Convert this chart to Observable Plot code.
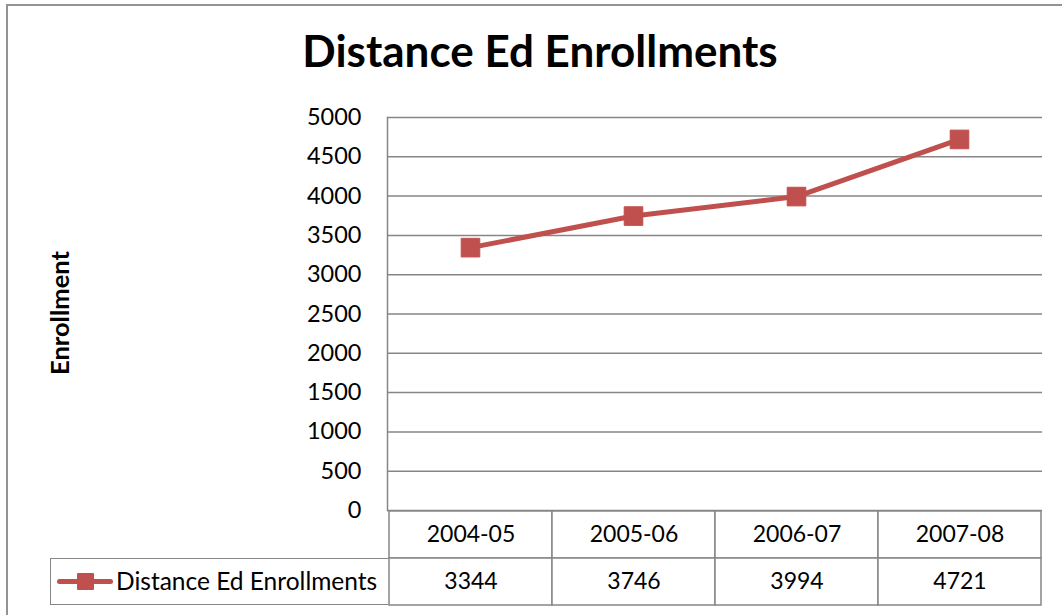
<!DOCTYPE html>
<html>
<head>
<meta charset="utf-8">
<script src="https://cdn.jsdelivr.net/npm/d3@7"></script>
<script src="https://cdn.jsdelivr.net/npm/@observablehq/plot@0.6"></script>
<style>
  html, body { margin: 0; padding: 0; background: #fff; }
  #wrap { position: relative; width: 1062px; height: 615px; overflow: hidden; background: #fff; font-family: Lato, sans-serif; color: #000; }
  #frame { position: absolute; left: 6px; top: 4px; width: 1200px; height: 800px; border-left: 2px solid #939393; border-top: 2px solid #939393; }
  #title { position: absolute; left: 0; width: 1080px; top: 28px; text-align: center; font-weight: 700; font-size: 44px; line-height: 44px; white-space: nowrap; }
  #ytitle { position: absolute; left: 59px; top: 313px; transform: translate(-50%, -50%) rotate(-90deg); font-weight: 700; font-size: 25.5px; white-space: nowrap; }
  #main, #table { position: absolute; left: 0; }
  #main { top: 0; }
  #table { top: 510px; }
  #legend { position: absolute; left: 50px; top: 558px; width: 338px; height: 47px; box-sizing: border-box; border: 1.5px solid #868686; border-right: none; background: #fff; }
  #legend .ln { position: absolute; left: 6px; top: 20px; width: 56px; height: 5px; border-radius: 2.5px; }
  #legend .sq { position: absolute; left: 26px; top: 14px; width: 17px; height: 17px; border-radius: 1px; }
  #legend .tx { position: absolute; left: 65px; top: 0; height: 44px; line-height: 44px; font-size: 24.5px; white-space: nowrap; }
</style>
</head>
<body>
<div id="wrap">
  <div id="frame"></div>
  <div id="title"></div>
  <div id="ytitle"></div>
  <div id="main"></div>
  <div id="table"></div>
  <div id="legend"><div class="ln"></div><div class="sq"></div><div class="tx"></div></div>
</div>
<script>
const chartTitle = "Distance Ed Enrollments";
const yTitle = "Enrollment";
const seriesName = "Distance Ed Enrollments";
const categories = ["2004-05", "2005-06", "2006-07", "2007-08"];
const enrollments = [3344, 3746, 3994, 4721];
const yTicks = [0, 500, 1000, 1500, 2000, 2500, 3000, 3500, 4000, 4500, 5000];
const tableRows = ["header", "value"];

const RED = "#C0504D";
const GRID = "#868686";

const data = categories.map((c, i) => ({cat: c, value: enrollments[i]}));
const cells = categories.flatMap((c, i) => [
  {cat: c, row: tableRows[0], text: c},
  {cat: c, row: tableRows[1], text: String(enrollments[i])}
]);

document.getElementById("title").textContent = chartTitle;
document.getElementById("ytitle").textContent = yTitle;
document.querySelector("#legend .tx").textContent = seriesName;
document.querySelector("#legend .ln").style.background = RED;
document.querySelector("#legend .sq").style.background = RED;

const main = Plot.plot({
  width: 1062, height: 540,
  marginLeft: 387, marginRight: 20, marginTop: 117, marginBottom: 30,
  style: {fontFamily: "Lato, sans-serif", fontSize: "23.5px", background: "transparent", color: "#000"},
  x: {type: "point", domain: categories, padding: 0.5, axis: null},
  y: {domain: [0, 5000], axis: null},
  marks: [
    Plot.gridY(yTicks, {stroke: GRID, strokeOpacity: 1, strokeWidth: 1.5}),
    Plot.axisY(yTicks, {tickSize: 0, tickPadding: 26, fontSize: 23.5, tickFormat: d => String(d), label: null}),
    Plot.frame({anchor: "left", stroke: GRID, strokeWidth: 1.5}),
    Plot.line(data, {x: "cat", y: "value", stroke: RED, strokeWidth: 5}),
    Plot.dot(data, {x: "cat", y: "value", symbol: "square", r: 10.5, fill: RED, stroke: RED, strokeWidth: 1, strokeLinejoin: "round"})
  ]
});
document.getElementById("main").appendChild(main);

const table = Plot.plot({
  width: 1062, height: 96,
  marginLeft: 387, marginRight: 20, marginTop: 1, marginBottom: 1,
  style: {fontFamily: "Lato, sans-serif", fontSize: "23px", background: "transparent", color: "#000"},
  x: {type: "band", domain: categories, padding: 0, axis: null},
  y: {type: "band", domain: tableRows, padding: 0, axis: null},
  marks: [
    Plot.cell(cells, {x: "cat", y: "row", fill: "white", stroke: GRID, strokeWidth: 1.5, inset: 0}),
    Plot.text(cells, {x: "cat", y: "row", text: "text", fontSize: 23, fill: "#000"})
  ]
});
document.getElementById("table").appendChild(table);
</script>
</body>
</html>
